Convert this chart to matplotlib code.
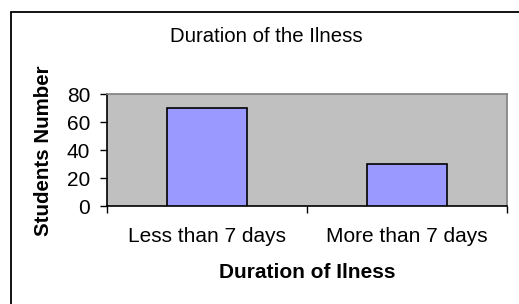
import matplotlib
matplotlib.use("Agg")
import matplotlib.pyplot as plt
from matplotlib.patches import Rectangle

# datos
categorias = ["Less than 7 days", "More than 7 days"]
valores = [70, 30]
yticks = [0, 20, 40, 60, 80]

plt.rcParams["font.family"] = ["Liberation Sans", "DejaVu Sans"]

W, H = 519, 304
fig = plt.figure(figsize=(W / 100, H / 100), dpi=100)

# marco exterior (cortado por la derecha y abajo)
fig.patches.append(Rectangle((11 / W, -0.1), 1.2, 1 - 12 / H + 0.1,
                             transform=fig.transFigure, fill=False,
                             edgecolor="black", linewidth=1.3))

ax = fig.add_axes([107 / W, (H - 206) / H, 400 / W, 112 / H])
ax.set_facecolor("#C0C0C0")

x = list(range(len(categorias)))
ax.bar(x, valores, width=0.4, color="#9999FF", edgecolor="black", linewidth=1.2, zorder=3)

ax.set_xlim(-0.5, len(categorias) - 0.5)
ax.set_ylim(0, 80)
ax.set_yticks(yticks)
ax.tick_params(axis="y", labelsize=15, length=5, width=1, pad=7, color="black")

ax.set_xticks(x)
ax.set_xticklabels(categorias)
ax.tick_params(axis="x", which="major", length=0, labelsize=15, pad=15)
ax.set_xticks([-0.5, 0.5, 1.5], minor=True)
ax.tick_params(axis="x", which="minor", length=5, width=1, color="black")

for s in ["top", "right"]:
    ax.spines[s].set_color("#808080")
    ax.spines[s].set_linewidth(1.2)
for s in ["left", "bottom"]:
    ax.spines[s].set_color("black")
    ax.spines[s].set_linewidth(1.2)

fig.text(266 / W, 1 - 36 / H, "Duration of the Ilness", ha="center", va="center", fontsize=14.7)
fig.text(307 / W, 1 - 273 / H, "Duration of Ilness", ha="center", va="center",
         fontsize=15, fontweight="bold")
fig.text(44 / W, 1 - 151 / H, "Students Number", ha="center", va="center",
         fontsize=14.8, fontweight="bold", rotation=90)

fig.savefig("out.png", dpi=100)
